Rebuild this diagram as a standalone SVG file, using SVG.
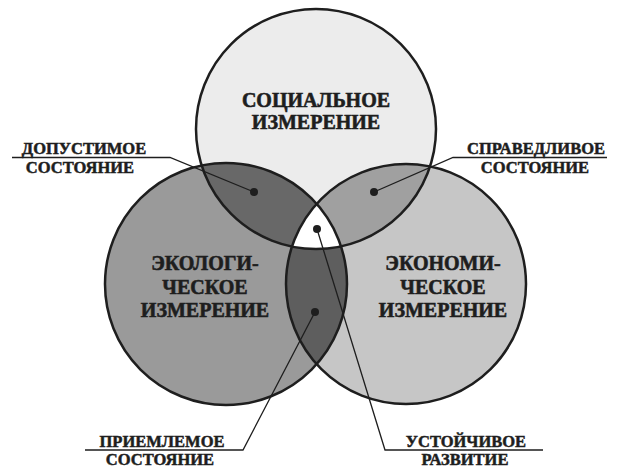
<svg xmlns="http://www.w3.org/2000/svg" width="618" height="468" viewBox="0 0 618 468">
<style>
.t{font-family:"Liberation Serif","Times New Roman",serif;font-weight:700;fill:#1e1e1e;stroke:#1e1e1e;stroke-width:0.6;text-anchor:middle}
.big{font-size:20px}
.lbl{font-size:16.5px;stroke-width:0.5}
.ring{fill:none;stroke:#1e1e1e;stroke-width:2.5}
.lead{fill:none;stroke:#1e1e1e;stroke-width:1.3}
.dot{fill:#1e1e1e}
</style>
<defs>
<clipPath id="cTop"><circle cx="316" cy="129" r="120"/></clipPath>
<clipPath id="cLeft"><circle cx="226" cy="284" r="121"/></clipPath>
</defs>
<rect width="618" height="468" fill="#ffffff"/>
<g id="social">
<circle cx="316" cy="129" r="120" fill="#ececec"/>
</g>
<g id="ecological">
<circle cx="226" cy="284" r="121" fill="#9a9a9a"/>
</g>
<g id="economic">
<circle cx="406" cy="284" r="120" fill="#c6c6c6"/>
</g>
<g id="overlaps">
<circle cx="226" cy="284" r="121" fill="#686868" clip-path="url(#cTop)"/>
<circle cx="406" cy="284" r="120" fill="#a0a0a0" clip-path="url(#cTop)"/>
<circle cx="406" cy="284" r="120" fill="#5e5e5e" clip-path="url(#cLeft)"/>
<g clip-path="url(#cTop)"><circle cx="406" cy="284" r="120" fill="#ffffff" clip-path="url(#cLeft)"/></g>
</g>
<g id="outlines">
<circle class="ring" cx="316" cy="129" r="120"/>
<circle class="ring" cx="226" cy="284" r="121"/>
<circle class="ring" cx="406" cy="284" r="120"/>
</g>
<g id="connectors">
<polyline class="lead" points="12,157.5 170,157.5 254,192"/>
<polyline class="lead" points="607,157.5 453,157.5 374,192"/>
<polyline class="lead" points="85,450 243,450 315,312"/>
<polyline class="lead" points="543,450 385,450 317,229"/>
<circle class="dot" cx="254" cy="192" r="4"/>
<circle class="dot" cx="374" cy="192" r="4"/>
<circle class="dot" cx="317" cy="229" r="4"/>
<circle class="dot" cx="315" cy="312" r="4"/>
</g>
<g id="social-label">
<text class="t big" x="316" y="107">СОЦИАЛЬНОЕ</text>
<text class="t big" x="316" y="129">ИЗМЕРЕНИЕ</text>
</g>
<g id="ecological-label">
<text class="t big" x="205" y="270">ЭКОЛОГИ-</text>
<text class="t big" x="205" y="294">ЧЕСКОЕ</text>
<text class="t big" x="205" y="317">ИЗМЕРЕНИЕ</text>
</g>
<g id="economic-label">
<text class="t big" x="443" y="270">ЭКОНОМИ-</text>
<text class="t big" x="443" y="294">ЧЕСКОЕ</text>
<text class="t big" x="443" y="317">ИЗМЕРЕНИЕ</text>
</g>
<g id="label-admissible">
<text class="t lbl" x="84" y="154">ДОПУСТИМОЕ</text>
<text class="t lbl" x="80" y="173">СОСТОЯНИЕ</text>
</g>
<g id="label-fair">
<text class="t lbl" x="536" y="154">СПРАВЕДЛИВОЕ</text>
<text class="t lbl" x="535" y="173">СОСТОЯНИЕ</text>
</g>
<g id="label-acceptable">
<text class="t lbl" x="162" y="447">ПРИЕМЛЕМОЕ</text>
<text class="t lbl" x="160" y="465">СОСТОЯНИЕ</text>
</g>
<g id="label-sustainable">
<text class="t lbl" x="466" y="447">УСТОЙЧИВОЕ</text>
<text class="t lbl" x="465" y="465">РАЗВИТИЕ</text>
</g>
</svg>
